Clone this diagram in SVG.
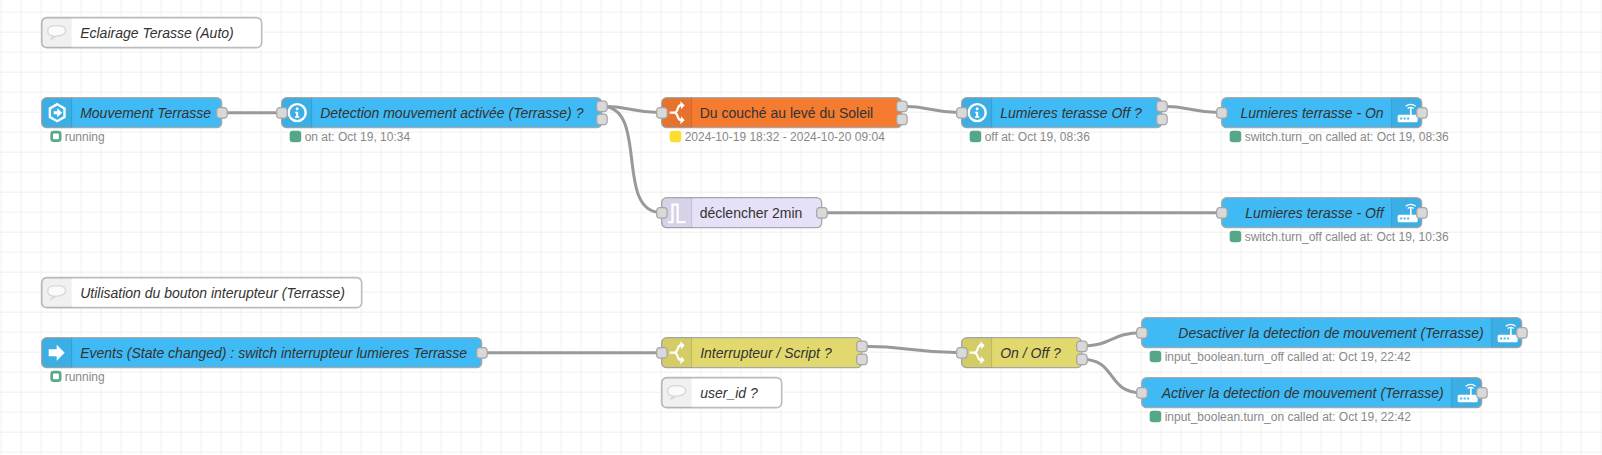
<svg xmlns="http://www.w3.org/2000/svg" width="1602" height="455" viewBox="0 0 1602 455">
<style>
.n{stroke:#a8a8a8;stroke-width:1.3}
.blue{fill:#3fbaf4}.orange{fill:#f47b30}.yellow{fill:#e2d96e}.purple{fill:#e6e0f8}.comment{fill:#fff;stroke:#bbb;stroke-width:1.6}
.h{fill:#000;fill-opacity:.06}.hl{stroke:#000;stroke-opacity:.12;stroke-width:1}
.p{fill:#d9d9d9;stroke:#a5a5a5;stroke-width:1.2}
.t{font:14px "Liberation Sans",Arial,sans-serif;fill:#333}.i{font-style:italic}.e{text-anchor:end}
.s{font:12px "Liberation Sans",Arial,sans-serif;fill:#888}
.w{fill:none;stroke:#999;stroke-width:3}
.ic{fill:#fff}
.bub{fill:#fafafa;stroke:#d8d8d8;stroke-width:1.4}
.g{fill:#55a887}.r{fill:#fff;stroke:#55a887;stroke-width:2.6}.y{fill:#fbdf2c}
</style>
<defs>
<pattern id="grid" width="20" height="20" patternUnits="userSpaceOnUse" x="1.67" y="12.67"><path d="M20 0V20M0 20H20" fill="none" stroke="#eaeaea" stroke-width="1.3"/></pattern>
<rect id="port" class="p" x="-5" y="-5" width="10.500" height="10.500" rx="3"/>
<g id="switch"><path d="M-8 0H-4C-1 0 -.5 -2 0 -4C.8 -6.500 1.800 -7.500 3.500 -7.500M-4 0C-1 0 -.5 2 0 4C.8 6.500 1.800 7.500 3.500 7.500" fill="none" stroke="#fff" stroke-width="2.200"/><path class="ic" d="M2.500 -11.500L7 -7.500L3.500 -3.500ZM2.500 11.500L7 7.500L3.500 3.500Z"/></g>
<g id="router"><rect class="ic" x="-9" y="2" width="20" height="7.500" rx="1.500"/><path class="ic" d="M3.300 2.500V-4.500H5V2.500Z"/><path d="M-1 -6.500Q4 -10 9 -6.500M1 -4.200Q4 -6.500 7 -4.200" fill="none" stroke="#fff" stroke-width="1.200"/><path d="M-6.500 5.800h2M-3 5.800h2M.5 5.800h2" stroke="#3fbaf4" stroke-width="2"/></g>
<path id="bubble" class="bub" d="M-3 3.500C-7 3.200 -9 .8 -9 -2C-9 -5.200 -5.500 -7 0 -7C5.500 -7 9 -5.200 9 -2C9 1.200 5 3.500 0 3.500L-5.500 6.500C-5 5.500 -4 4 -3 3.500Z"/>
<g id="info"><circle r="8.500" fill="none" stroke="#fff" stroke-width="2.400"/><circle cy="-3.800" r="1.500" fill="#fff"/><path d="M-2 -.8H1V3.500H2.200V5H-2.200V3.500H-1V.700H-2Z" fill="#fff"/></g>
</defs>
<rect width="1602" height="455" fill="#fff"/>
<rect width="1602" height="455" fill="url(#grid)"/>
<g id="connectors" transform="translate(-.33,-.33)">
<path class="w" d="M222 113H282"/>
<path class="w" d="M602 106.500C632 106.500 632 113 662 113"/>
<path class="w" d="M602 106.500C650 106.500 614 213 662 213"/>
<path class="w" d="M902 106.500C932 106.500 932 113 962 113"/>
<path class="w" d="M1162 106.500C1192 106.500 1192 113 1222 113"/>
<path class="w" d="M822 213H1222"/>
<path class="w" d="M482 353H662"/>
<path class="w" d="M862 346.500C912 346.500 912 353 962 353"/>
<path class="w" d="M1082 346.500C1112 346.500 1112 333 1142 333"/>
<path class="w" d="M1082 359.500C1118 359.500 1106 393 1142 393"/>
</g>
<g transform="translate(-.33,-.33)">
<g id="c1"><rect class="comment" x="42" y="18" width="220" height="30" rx="5"/><path class="h" d="M47 18h25v30h-25a5 5 0 0 1-5-5v-20a5 5 0 0 1 5-5z"/><use href="#bubble" x="57" y="33"/><text class="t i" x="80.500" y="38">Eclairage Terasse (Auto)</text></g>
<g id="n1"><rect class="n blue" x="42" y="98" width="180" height="30" rx="5"/><path class="h" d="M47 98h25v30h-25a5 5 0 0 1-5-5v-20a5 5 0 0 1 5-5z"/><path class="hl" d="M72 98v30"/>
<path d="M57.500 104.500L64.800 108.700V117.300L57.500 121.500L50.200 117.300V108.700Z" fill="none" stroke="#fff" stroke-width="2.400"/><path class="ic" d="M54 111.500H57.500V108.500L62.500 113L57.500 117.500V114.500H54Z"/>
<text class="t i" x="80.500" y="118">Mouvement Terrasse</text><use href="#port" x="222" y="113"/>
<rect class="r" x="52" y="132.500" width="8.500" height="8.500" rx="2"/><text class="s" x="65" y="141">running</text></g>
<g id="n2"><rect class="n blue" x="282" y="98" width="320" height="30" rx="5"/><path class="h" d="M287 98h25v30h-25a5 5 0 0 1-5-5v-20a5 5 0 0 1 5-5z"/><path class="hl" d="M312 98v30"/><use href="#info" x="297.500" y="113"/>
<text class="t i" x="320.500" y="118">Detection mouvement activée (Terrasse) ?</text><use href="#port" x="282" y="113"/><use href="#port" x="602" y="106.500"/><use href="#port" x="602" y="119.500"/>
<rect class="g" x="290" y="131" width="11.500" height="11.500" rx="3"/><text class="s" x="305" y="141">on at: Oct 19, 10:34</text></g>
<g id="n3"><rect class="n orange" x="662" y="98" width="240" height="30" rx="5"/><path class="h" d="M667 98h25v30h-25a5 5 0 0 1-5-5v-20a5 5 0 0 1 5-5z"/><path class="hl" d="M692 98v30"/><use href="#switch" x="678" y="113"/>
<text class="t" x="700" y="118">Du couché au levé du Soleil</text><use href="#port" x="662" y="113"/><use href="#port" x="902" y="106.500"/><use href="#port" x="902" y="119.500"/>
<rect class="y" x="670" y="131" width="11.500" height="11.500" rx="3"/><text class="s" x="685" y="141">2024-10-19 18:32 - 2024-10-20 09:04</text></g>
<g id="n4"><rect class="n blue" x="962" y="98" width="200" height="30" rx="5"/><path class="h" d="M967 98h25v30h-25a5 5 0 0 1-5-5v-20a5 5 0 0 1 5-5z"/><path class="hl" d="M992 98v30"/><use href="#info" x="977.500" y="113"/>
<text class="t i" x="1000.500" y="118">Lumieres terasse Off ?</text><use href="#port" x="962" y="113"/><use href="#port" x="1162" y="106.500"/><use href="#port" x="1162" y="119.500"/>
<rect class="g" x="970" y="131" width="11.500" height="11.500" rx="3"/><text class="s" x="985" y="141">off at: Oct 19, 08:36</text></g>
<g id="n5"><rect class="n blue" x="1222" y="98" width="200" height="30" rx="5"/><path class="h" d="M1392 98h25a5 5 0 0 1 5 5v20a5 5 0 0 1-5 5h-25z"/><path class="hl" d="M1392 98v30"/><use href="#router" x="1407" y="113"/>
<text class="t i e" x="1384" y="118">Lumieres terrasse - On</text><use href="#port" x="1222" y="113"/><use href="#port" x="1422" y="113"/>
<rect class="g" x="1230" y="131" width="11.500" height="11.500" rx="3"/><text class="s" x="1245" y="141">switch.turn_on called at: Oct 19, 08:36</text></g>
<g id="n6"><rect class="n purple" x="662" y="198" width="160" height="30" rx="5"/><path class="h" d="M667 198h25v30h-25a5 5 0 0 1-5-5v-20a5 5 0 0 1 5-5z"/><path class="hl" d="M692 198v30"/>
<path d="M668.500 222.500H672.800V205H678V222.500H686" fill="none" stroke="#fff" stroke-width="2.200"/>
<text class="t" x="700" y="218">déclencher 2min</text><use href="#port" x="662" y="213"/><use href="#port" x="822" y="213"/></g>
<g id="n7"><rect class="n blue" x="1222" y="198" width="200" height="30" rx="5"/><path class="h" d="M1392 198h25a5 5 0 0 1 5 5v20a5 5 0 0 1-5 5h-25z"/><path class="hl" d="M1392 198v30"/><use href="#router" x="1407" y="213"/>
<text class="t i e" x="1384" y="218">Lumieres terasse - Off</text><use href="#port" x="1222" y="213"/><use href="#port" x="1422" y="213"/>
<rect class="g" x="1230" y="231" width="11.500" height="11.500" rx="3"/><text class="s" x="1245" y="241">switch.turn_off called at: Oct 19, 10:36</text></g>
<g id="c2"><rect class="comment" x="42" y="278" width="320" height="30" rx="5"/><path class="h" d="M47 278h25v30h-25a5 5 0 0 1-5-5v-20a5 5 0 0 1 5-5z"/><use href="#bubble" x="57" y="293"/><text class="t i" x="80.500" y="298">Utilisation du bouton interupteur (Terrasse)</text></g>
<g id="n8"><rect class="n blue" x="42" y="338" width="440" height="30" rx="5"/><path class="h" d="M47 338h25v30h-25a5 5 0 0 1-5-5v-20a5 5 0 0 1 5-5z"/><path class="hl" d="M72 338v30"/>
<path class="ic" d="M49 349.500H57V345L65 353L57 361V356.500H49Z"/>
<text class="t i" x="80.500" y="358">Events (State changed) : switch interrupteur lumieres Terrasse</text><use href="#port" x="482" y="353"/>
<rect class="r" x="52" y="372.500" width="8.500" height="8.500" rx="2"/><text class="s" x="65" y="381">running</text></g>
<g id="n9"><rect class="n yellow" x="662" y="338" width="200" height="30" rx="5"/><path class="h" d="M667 338h25v30h-25a5 5 0 0 1-5-5v-20a5 5 0 0 1 5-5z"/><path class="hl" d="M692 338v30"/><use href="#switch" x="678" y="353"/>
<text class="t i" x="700.500" y="358">Interrupteur / Script ?</text><use href="#port" x="662" y="353"/><use href="#port" x="862" y="346.500"/><use href="#port" x="862" y="359.500"/></g>
<g id="c3"><rect class="comment" x="662" y="378" width="120" height="30" rx="5"/><path class="h" d="M667 378h25v30h-25a5 5 0 0 1-5-5v-20a5 5 0 0 1 5-5z"/><use href="#bubble" x="677" y="393"/><text class="t i" x="700.500" y="398">user_id ?</text></g>
<g id="n10"><rect class="n yellow" x="962" y="338" width="120" height="30" rx="5"/><path class="h" d="M967 338h25v30h-25a5 5 0 0 1-5-5v-20a5 5 0 0 1 5-5z"/><path class="hl" d="M992 338v30"/><use href="#switch" x="978" y="353"/>
<text class="t i" x="1000.500" y="358">On / Off ?</text><use href="#port" x="962" y="353"/><use href="#port" x="1082" y="346.500"/><use href="#port" x="1082" y="359.500"/></g>
<g id="n11"><rect class="n blue" x="1142" y="318" width="380" height="30" rx="5"/><path class="h" d="M1492 318h25a5 5 0 0 1 5 5v20a5 5 0 0 1-5 5h-25z"/><path class="hl" d="M1492 318v30"/><use href="#router" x="1507" y="333"/>
<text class="t i e" x="1484" y="338">Desactiver la detection de mouvement (Terrasse)</text><use href="#port" x="1142" y="333"/><use href="#port" x="1522" y="333"/>
<rect class="g" x="1150" y="351" width="11.500" height="11.500" rx="3"/><text class="s" x="1165" y="361">input_boolean.turn_off called at: Oct 19, 22:42</text></g>
<g id="n12"><rect class="n blue" x="1142" y="378" width="340" height="30" rx="5"/><path class="h" d="M1452 378h25a5 5 0 0 1 5 5v20a5 5 0 0 1-5 5h-25z"/><path class="hl" d="M1452 378v30"/><use href="#router" x="1467" y="393"/>
<text class="t i e" x="1444" y="398">Activer la detection de mouvement (Terrasse)</text><use href="#port" x="1142" y="393"/><use href="#port" x="1482" y="393"/>
<rect class="g" x="1150" y="411" width="11.500" height="11.500" rx="3"/><text class="s" x="1165" y="421">input_boolean.turn_on called at: Oct 19, 22:42</text></g>
</g>
</svg>
